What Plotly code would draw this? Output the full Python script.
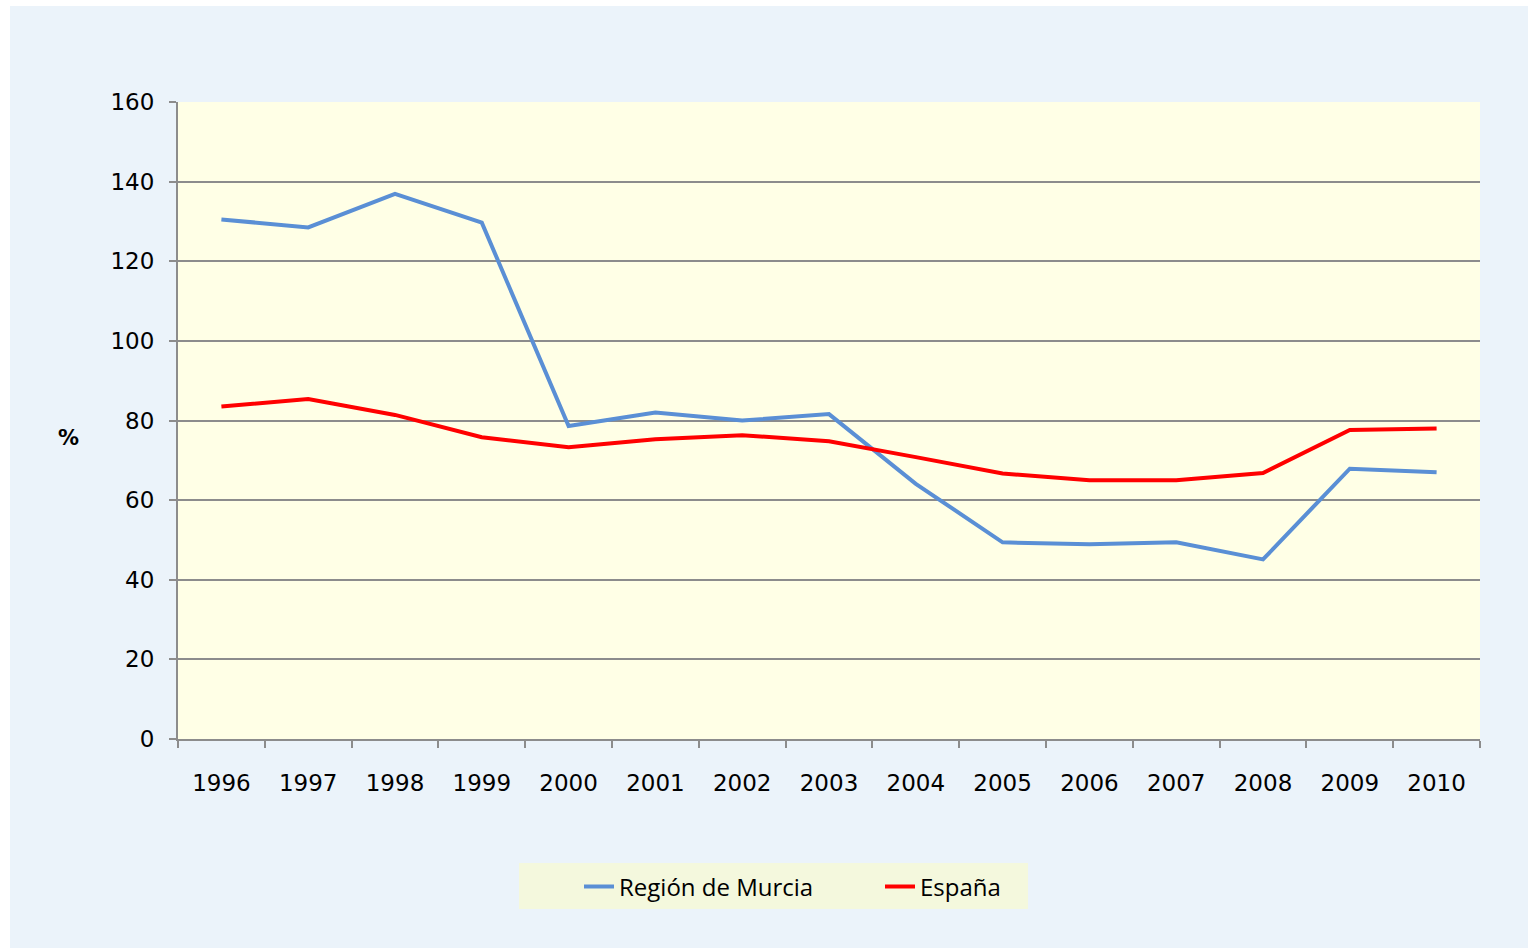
import plotly.graph_objects as go

years = ["1996", "1997", "1998", "1999", "2000", "2001", "2002", "2003",
         "2004", "2005", "2006", "2007", "2008", "2009", "2010"]
murcia = [130.5, 128.5, 136.9, 129.7, 78.6, 82.0, 80.0, 81.6,
          64.1, 49.4, 48.9, 49.4, 45.1, 67.9, 67.0]
espana = [83.5, 85.4, 81.4, 75.8, 73.3, 75.3, 76.3, 74.8,
          70.8, 66.7, 65.0, 65.0, 66.8, 77.6, 78.0]
y_ticks = [0, 20, 40, 60, 80, 100, 120, 140, 160]

W, H = 1528, 948
L, R, T, B = 178, 48, 102, 209
pw, ph = W - L - R, H - T - B

def px(x):
    return (x - L) / pw

def py(y):
    return (H - B - y) / ph

fig = go.Figure()
fig.add_trace(go.Scatter(x=years, y=murcia, mode="lines", name="Región de Murcia",
                         line=dict(color="#5A8FD5", width=4)))
fig.add_trace(go.Scatter(x=years, y=espana, mode="lines", name="España",
                         line=dict(color="#FF0000", width=4)))

fig.update_layout(
    width=W, height=H,
    margin=dict(l=L, r=R, t=T, b=B, pad=0),
    paper_bgcolor="#EBF3FA",
    plot_bgcolor="#FFFFE6",
    font=dict(family="DejaVu Sans", size=23, color="#000000"),
    showlegend=True,
    legend=dict(orientation="h", x=px(579), y=py(887), xanchor="left", yanchor="middle",
                bgcolor="rgba(0,0,0,0)", font=dict(family="Open Sans", size=24, color="#000"),
                entrywidth=256, entrywidthmode="pixels", itemwidth=30, borderwidth=0),
    xaxis=dict(type="category", showgrid=False, showline=True, linecolor="#8C8C8C", linewidth=2,
               ticks="outside", tickson="boundaries", ticklen=7, tickcolor="#8C8C8C", tickwidth=2,
               range=[-0.5, 14.5], ticklabelstandoff=22,
               tickfont=dict(family="DejaVu Sans", size=23)),
    yaxis=dict(range=[0, 160], tickvals=y_ticks, showgrid=True, gridcolor="#8C8C8C", gridwidth=2,
               showline=True, linecolor="#8C8C8C", linewidth=2, ticks="outside", ticklen=7,
               tickcolor="#8C8C8C", tickwidth=2, zeroline=False, ticklabelstandoff=10,
               tickfont=dict(family="DejaVu Sans", size=23)),
    annotations=[dict(text="<b>%</b>", x=px(68), y=py(438), xref="paper", yref="paper",
                      xanchor="center", yanchor="middle", showarrow=False,
                      font=dict(family="DejaVu Sans", size=21))],
    shapes=[
        dict(type="rect", xref="paper", yref="paper", x0=px(519), x1=px(1028), y0=py(909), y1=py(863),
             fillcolor="#F4F8DD", line=dict(width=0), layer="below"),
        dict(type="rect", xref="paper", yref="paper", x0=px(0), x1=px(10), y0=py(H), y1=py(0),
             fillcolor="white", line=dict(width=0), layer="above"),
        dict(type="rect", xref="paper", yref="paper", x0=px(0), x1=px(W), y0=py(6), y1=py(0),
             fillcolor="white", line=dict(width=0), layer="above"),
    ],
)

fig.write_html("out.html", config={"displayModeBar": False},
               post_script="document.body.style.margin='0';document.body.style.overflow='hidden';")
